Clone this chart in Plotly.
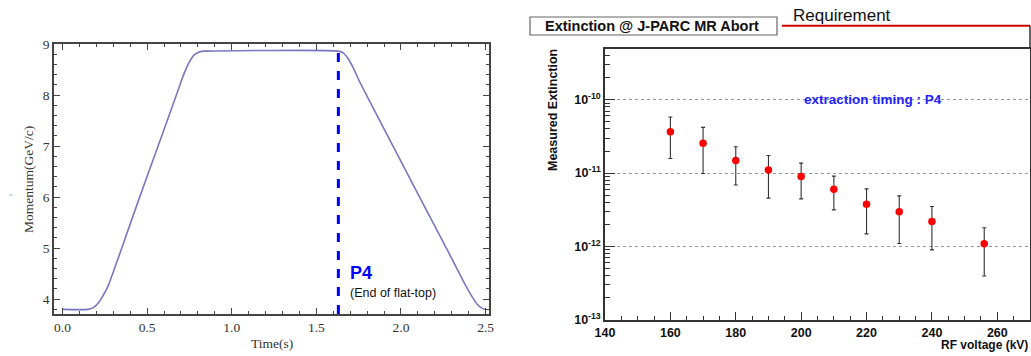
import plotly.graph_objects as go

# ---------------- data: left panel (MR momentum pattern) ----------------
time_s = [0.0, 0.15, 0.18, 0.21, 0.24, 0.27, 0.35, 0.456, 0.565, 0.673, 0.716,
          0.75, 0.78, 0.82, 0.85, 1.63, 1.66, 1.69, 1.72, 1.75, 1.796, 1.953, 2.11,
          2.268, 2.38, 2.42, 2.45, 2.48, 2.50]
momentum = [3.80, 3.80, 3.83, 3.92, 4.07, 4.26, 5.00, 6.00, 7.00, 8.00, 8.40,
            8.65, 8.79, 8.855, 8.86, 8.86, 8.82, 8.70, 8.52, 8.30, 8.00, 7.00, 6.00,
            5.00, 4.28, 4.05, 3.90, 3.82, 3.80]
P4_TIME = 1.63
left_xticks = [0.0, 0.5, 1.0, 1.5, 2.0, 2.5]
left_yticks = [4, 5, 6, 7, 8, 9]

# ---------------- data: right panel (extinction vs RF voltage) ----------------
rf_kv = [160, 170, 180, 190, 200, 210, 220, 230, 240, 256]
extinction = [3.66e-11, 2.56e-11, 1.49e-11, 1.10e-11, 9.0e-12, 6.05e-12,
              3.78e-12, 2.97e-12, 2.19e-12, 1.09e-12]
err_top = [5.8e-11, 4.2e-11, 2.29e-11, 1.74e-11, 1.37e-11, 9.1e-12,
           6.1e-12, 4.9e-12, 3.51e-12, 1.8e-12]
err_bottom = [1.58e-11, 9.9e-12, 6.9e-12, 4.56e-12, 4.46e-12, 3.16e-12,
              1.49e-12, 1.1e-12, 9.0e-13, 3.98e-13]
right_xticks = [140, 160, 180, 200, 220, 240, 260]
right_yticks = [1e-13, 1e-12, 1e-11, 1e-10]
right_yticktext = ["<b>10<sup>-13</sup></b>", "<b>10<sup>-12</sup></b>",
                   "<b>10<sup>-11</sup></b>", "<b>10<sup>-10</sup></b>"]
minor_logticks = [m * 10.0 ** e for e in (-13, -12, -11, -10) for m in range(2, 10)]

W, H = 1031, 356
def px(x):
    return x / W
def py(y):
    return 1 - y / H

serif = "Liberation Serif, Times New Roman, serif"
sans = "Liberation Sans, Arial, Helvetica, sans-serif"

fig = go.Figure()

fig.add_trace(go.Scatter(
    x=time_s, y=momentum, mode="lines", line=dict(color="#7878c0", width=1.6, shape="spline", smoothing=0.6),
    xaxis="x", yaxis="y", showlegend=False, hoverinfo="skip"))

fig.add_trace(go.Scatter(
    x=rf_kv, y=extinction, mode="markers",
    marker=dict(color="#ff0000", size=7.5),
    error_y=dict(type="data", symmetric=False,
                 array=[t - v for t, v in zip(err_top, extinction)],
                 arrayminus=[v - b for v, b in zip(extinction, err_bottom)],
                 color="#333333", thickness=1.1, width=2),
    xaxis="x2", yaxis="y2", showlegend=False))

fig.add_shape(type="line", xref="x", yref="y domain", x0=P4_TIME, x1=P4_TIME, y0=0, y1=1,
              line=dict(color="#0000ff", width=3, dash="dash"))

frame_col = "#444444"
fig.update_layout(
    autosize=True, margin=dict(l=0, r=0, t=0, b=0, autoexpand=False),
    paper_bgcolor="white", plot_bgcolor="white",
    xaxis=dict(domain=[px(54), px(489)], range=[-0.05, 2.52], anchor="y",
               tickvals=left_xticks, ticktext=["%.1f" % v for v in left_xticks],
               ticks="inside", ticklen=6, tickwidth=1.2, tickcolor=frame_col,
               minor=dict(dtick=0.1, ticks="inside", ticklen=3, tickcolor=frame_col),
               showline=True, linecolor=frame_col, linewidth=1.5, mirror="allticks",
               showgrid=False, zeroline=False,
               tickfont=dict(family=serif, size=13.5, color="#333333")),
    yaxis=dict(domain=[py(314), py(44)], range=[3.71, 9.0], anchor="x",
               tickvals=left_yticks, ticks="inside", ticklen=6, tickwidth=1.2, tickcolor=frame_col,
               minor=dict(dtick=0.2, ticks="inside", ticklen=3, tickcolor=frame_col),
               showline=True, linecolor=frame_col, linewidth=1.5, mirror="allticks",
               showgrid=False, zeroline=False,
               tickfont=dict(family=serif, size=13.5, color="#333333")),
    xaxis2=dict(domain=[px(605), px(1030)], range=[140, 270], anchor="y2",
                tickvals=right_xticks, ticks="inside", ticklen=8, tickwidth=1, tickcolor="#333",
                minor=dict(dtick=5, ticks="inside", ticklen=4, tickcolor="#333"),
                showline=True, linecolor="#333", linewidth=1.5, mirror=True,
                showgrid=False, zeroline=False,
                ticktext=["<b>%d</b>" % v for v in right_xticks],
                tickfont=dict(family=sans, size=12.5, color="#111")),
    yaxis2=dict(domain=[py(320), py(49)], type="log", range=[-13, -9.31], anchor="x2",
                tickvals=right_yticks, ticktext=right_yticktext,
                ticks="inside", ticklen=10, tickwidth=1, tickcolor="#333",
                minor=dict(tickvals=minor_logticks, ticks="inside", ticklen=5, tickcolor="#333", showgrid=False),
                showline=True, linecolor="#333", linewidth=1.5, mirror=True,
                showgrid=True, gridcolor="#999999", griddash="dot", gridwidth=1,
                zeroline=False,
                tickfont=dict(family=sans, size=12.5, color="#111")),
)

ann = []
ann.append(dict(text="<b>P4</b>", x=1.685, y=4.51, xref="x", yref="y", xanchor="left", yanchor="middle",
                showarrow=False, font=dict(family=sans, size=18, color="#0000ff")))
ann.append(dict(text="(End of flat-top)", x=1.685, y=4.12, xref="x", yref="y", xanchor="left", yanchor="middle",
                showarrow=False, font=dict(family=sans, size=12.5, color="#111")))
ann.append(dict(text="Time(s)", x=px(272), y=py(343), xref="paper", yref="paper", xanchor="center", yanchor="middle",
                showarrow=False, font=dict(family=serif, size=13.5, color="#333")))
ann.append(dict(text="Momentum(GeV/c)", x=px(28), y=py(180), xref="paper", yref="paper", xanchor="center", yanchor="middle",
                textangle=-90, showarrow=False, font=dict(family=serif, size=13.5, color="#333")))
ann.append(dict(text='"', x=px(10), y=py(197), xref="paper", yref="paper", xanchor="center", yanchor="middle",
                showarrow=False, font=dict(family=serif, size=8, color="#8888aa")))
# right panel texts
ann.append(dict(text="<b>Extinction @ J-PARC MR Abort</b>", x=px(652), y=py(26), xref="paper", yref="paper",
                xanchor="center", yanchor="middle", showarrow=False, font=dict(family=sans, size=14.5, color="#111")))
ann.append(dict(text="Requirement", x=px(791), y=py(15), xref="paper", yref="paper",
                xanchor="left", yanchor="middle", showarrow=False, font=dict(family=sans, size=17, color="#111")))
ann.append(dict(text="<b>Measured Extinction</b>", x=px(553), y=py(110), xref="paper", yref="paper",
                xanchor="center", yanchor="middle", textangle=-90, showarrow=False,
                font=dict(family=sans, size=12.5, color="#111")))
ann.append(dict(text="<b>RF voltage (kV)</b>", x=px(1030), y=py(345), xref="paper", yref="paper",
                xanchor="right", yanchor="middle", showarrow=False, font=dict(family=sans, size=12, color="#111")))
ann.append(dict(text="<b>extraction timing : P4</b>", x=222, y=-10, xref="x2", yref="y2",
                xanchor="center", yanchor="middle", showarrow=False, font=dict(family=sans, size=13.5, color="#2222ff")))
fig.update_layout(annotations=ann)

fig.add_shape(type="rect", xref="paper", yref="paper", x0=px(530), x1=px(777), y0=py(35), y1=py(17),
              line=dict(color="#666", width=1.2), fillcolor="white", layer="below")
fig.add_shape(type="line", xref="paper", yref="paper", x0=px(782), x1=px(1030), y0=py(25.7), y1=py(25.7),
              line=dict(color="#cc0000", width=2))
fig.add_shape(type="line", xref="paper", yref="paper", x0=px(1030), x1=px(1030), y0=py(25.7), y1=py(49),
              line=dict(color="#333", width=1.5))

post = ("document.documentElement.style.margin='0';document.documentElement.style.padding='0';"
        "document.documentElement.style.overflow='hidden';"
        "document.body.style.margin='0';document.body.style.padding='0';document.body.style.overflow='hidden';"
        "var gd=document.getElementById('{plot_id}');gd.style.width='100vw';gd.style.height='100vh';"
        "Plotly.Plots.resize(gd);")
fig.write_html("out.html", default_width="100vw", default_height="100vh",
               config={"displayModeBar": False, "responsive": True},
               post_script=post)
